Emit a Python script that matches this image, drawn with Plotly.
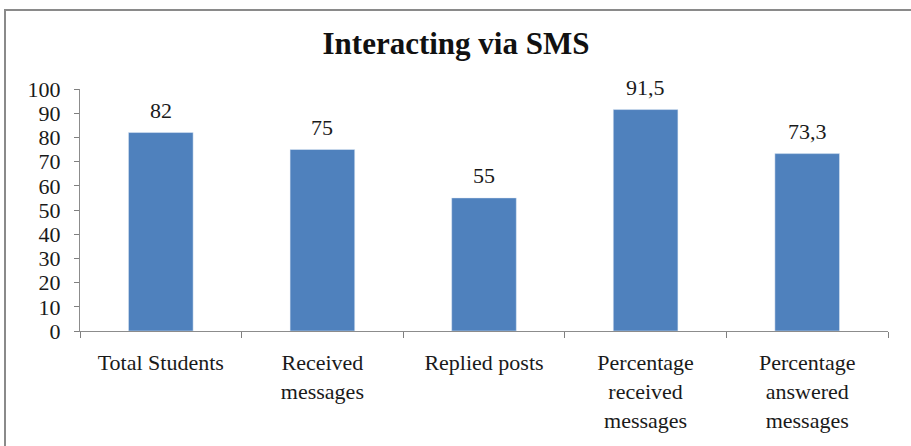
import plotly.graph_objects as go

categories = ["Total Students", "Received<br>messages", "Replied posts",
              "Percentage<br>received<br>messages", "Percentage<br>answered<br>messages"]
values = [82, 75, 55, 91.5, 73.3]
value_labels = ["82", "75", "55", "91,5", "73,3"]
y_ticks = [0, 10, 20, 30, 40, 50, 60, 70, 80, 90, 100]

W, H = 911, 446
L, R, T, B = 80, 23, 89, 115
pw, ph = W - L - R, H - T - B

fig = go.Figure(go.Bar(
    x=categories, y=values,
    marker=dict(color="#4F81BD"),
))

for c, v, t in zip(categories, values, value_labels):
    fig.add_annotation(x=c, y=v, text=t, showarrow=False, yanchor="bottom", yshift=8,
                       font=dict(family="Liberation Serif", size=22, color="#1a1a1a"))

fig.update_layout(
    width=W, height=H, margin=dict(l=L, r=R, t=T, b=B, autoexpand=False),
    paper_bgcolor="white", plot_bgcolor="white",
    bargap=0.6, showlegend=False,
    title=dict(text="<b>Interacting via SMS</b>", x=456 / W, xanchor="center",
               y=1 - 43 / H, yanchor="middle",
               font=dict(family="Liberation Serif", size=31, color="#111")),
    font=dict(family="Liberation Serif", size=22, color="#1a1a1a"),
)
fig.update_yaxes(range=[0, 100], tickvals=y_ticks, showgrid=False, showline=True,
                 linecolor="#8c8c8c", linewidth=1, ticks="outside", ticklen=5, tickwidth=1,
                 tickcolor="#7f7f7f", tickfont=dict(size=22), zeroline=False,
                 automargin=False, ticklabelstandoff=9)
fig.update_xaxes(showgrid=False, showline=True, linecolor="#8c8c8c", linewidth=1,
                 ticks="outside", ticklen=6, tickwidth=1, tickcolor="#7f7f7f",
                 tickson="boundaries",
                 tickfont=dict(size=22), tickangle=0, automargin=False,
                 ticklabelstandoff=12)

fig.add_shape(type="rect", xref="paper", yref="paper",
              x0=(5 - L) / pw, x1=(W + 20 - L) / pw,
              y0=-(H + 20 - T - ph) / ph, y1=(H - B - 10) / ph,
              line=dict(color="#8a8a8a", width=2), fillcolor="rgba(0,0,0,0)", layer="below")

fig.write_html("out.html", config={"displayModeBar": False},
               post_script="document.body.style.margin='0';document.body.style.overflow='hidden';")
